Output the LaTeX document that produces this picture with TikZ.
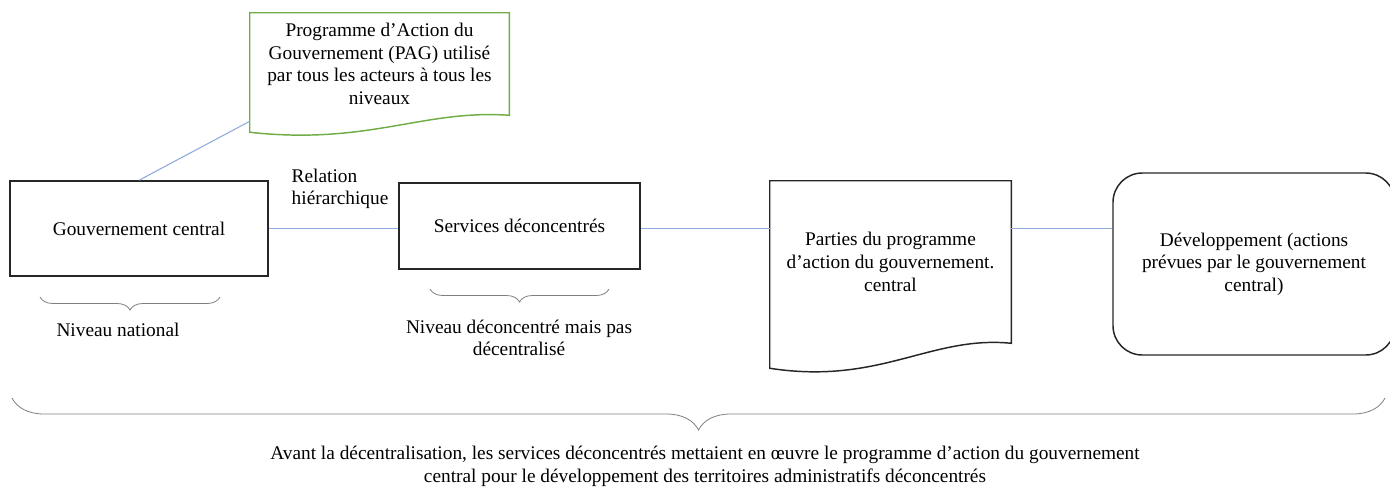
\documentclass[tikz,border=0pt]{standalone}
\usepackage{fontspec}
\setmainfont{Liberation Serif}
\newfontfamily\diagfont{Liberation Serif}
\usetikzlibrary{decorations.pathreplacing}

\definecolor{linkblue}{HTML}{8FAADC}
\definecolor{pagreen}{HTML}{70AD47}
\definecolor{bracegray}{HTML}{7F7F7F}

\begin{document}
\begin{tikzpicture}[x=0.75pt,y=-0.75pt,
    font=\diagfont\fontsize{14.5}{17}\selectfont,
    box/.style={draw=black!85,line width=1.1pt,align=center,inner sep=0pt},
    doc/.style={align=center,inner sep=0pt},
    link/.style={draw=linkblue,line width=0.8pt},
    brace/.style={draw=bracegray,line width=0.6pt,decorate,decoration={brace,mirror,amplitude=#1,aspect=0.5}}]
    \useasboundingbox (0,0) rectangle (1390,487);

    % Boxes
    \node[box,minimum width=193.5pt,minimum height=71.25pt] (gov) at (139,228.5) {Gouvernement central};
    \node[box,minimum width=180.75pt,minimum height=64.5pt] (serv) at (519.5,226) {Services\ d\'econcentr\'es};
    \node[box,rounded corners=22pt,minimum width=211.5pt,minimum height=136.5pt] (dev) at (1254,264)
        {D\'eveloppement (actions\\pr\'evues par le gouvernement\\central)};

    % Documents
    \node[doc,minimum width=194.25pt,minimum height=76.5pt] (pag) at (379.5,64)
        {Programme d’Action du\\Gouvernement (PAG) utilis\'e\\par tous les acteurs \`a tous les\\niveaux};
    \draw[pagreen,line width=1.1pt] (pag.north west) -- (pag.north east) -- (pag.south east)
        .. controls ([xshift=-65pt,yshift=4.5pt]pag.south east) and ([xshift=-105pt,yshift=-22.5pt]pag.south east)
        .. ([yshift=-12.75pt]pag.south west) -- cycle;

    \node[doc,minimum width=180.75pt,minimum height=121.5pt] (parties) at (890.5,262)
        {Parties du programme\\d’action du gouvernement.\\central};
    \draw[black!85,line width=1.1pt] (parties.north west) -- (parties.north east) -- (parties.south east)
        .. controls ([xshift=-60.75pt,yshift=6pt]parties.south east) and ([xshift=-98.25pt,yshift=-31.5pt]parties.south east)
        .. ([yshift=-18.75pt]parties.south west) -- cycle;

    % Connectors
    \draw[link] (gov.north) -- ([yshift=-4.5pt]pag.south west);
    \draw[link] (gov.east) -- (gov.east -| serv.west);
    \draw[link] (serv.east |- gov.east) -- (gov.east -| parties.west);
    \draw[link] (gov.east -| parties.east) -- (gov.east -| dev.west);
    \node[anchor=west,align=left] (rel) at (287,189) {Relation\\hi\'erarchique};

    % Braces and levels
    \draw[brace=9.75pt] (40,297) -- (220,297);
    \node (nat) at (118,330) {Niveau national};
    \draw[brace=9.75pt] (430,289) -- (609,289);
    \node[align=center] (deconc) at (519,338) {Niveau d\'econcentr\'e mais pas\\d\'ecentralis\'e};
    \draw[brace=24pt] (12,398) -- (1385,398);
    \node[align=center] (avant) at (705,466)
        {Avant la d\'ecentralisation, les services d\'econcentr\'es mettaient en \oe uvre le programme d’action du gouvernement\\
        central pour le d\'eveloppement des territoires administratifs\ d\'econcentr\'es};
\end{tikzpicture}
\end{document}
